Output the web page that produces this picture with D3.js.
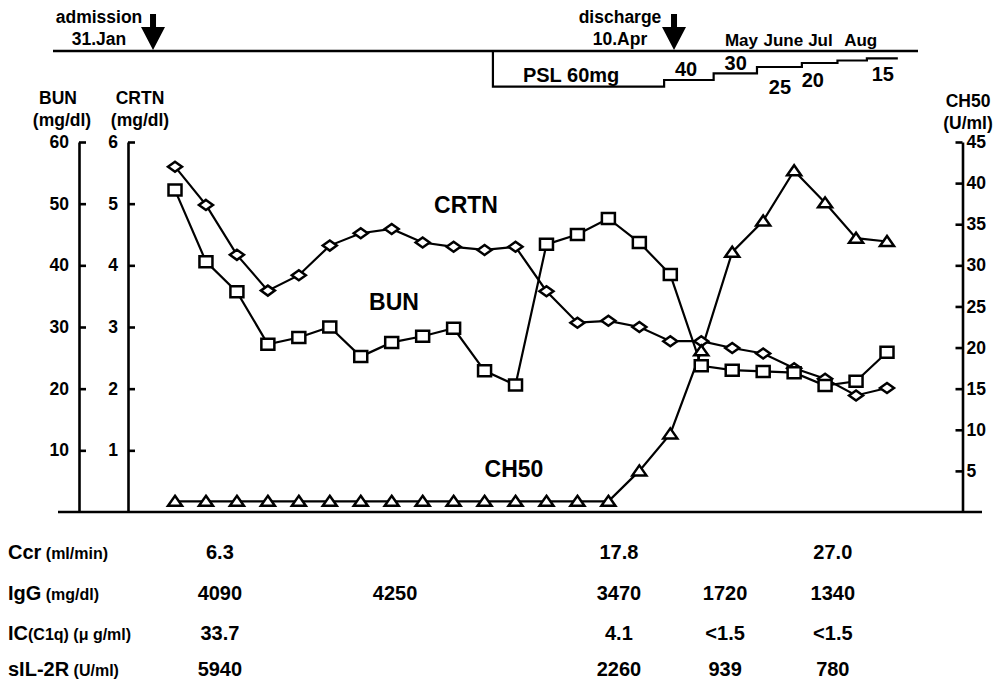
<!DOCTYPE html>
<html>
<head>
<meta charset="utf-8">
<script src="https://cdn.jsdelivr.net/npm/d3@7"></script>
<style>
  html, body { margin: 0; padding: 0; background: #fff; }
  svg { display: block; }
  text { font-family: "Liberation Sans", Arial, Helvetica, sans-serif; font-weight: bold; fill: #000; }
</style>
</head>
<body>
<svg id="chart" width="1000" height="681"></svg>
<script>
// ---------------- data ----------------
// time index of each sample (roughly weekly)
const samples = d3.range(24);
const bun  = [52.2, 40.6, 35.7, 27.2, 28.3, 30.0, 25.2, 27.5, 28.5, 29.8, 22.9, 20.6,
              43.4, 45.0, 47.6, 43.7, 38.5, 23.7, 23.0, 22.8, 22.6, 20.5, 21.2, 25.9];
const crtn = [5.60, 4.98, 4.17, 3.59, 3.84, 4.32, 4.52, 4.59, 4.37, 4.30, 4.25, 4.30,
              3.58, 3.07, 3.10, 3.00, 2.77, 2.77, 2.66, 2.57, 2.33, 2.16, 1.89, 2.01];
const ch50 = [1.3, 1.3, 1.3, 1.3, 1.3, 1.3, 1.3, 1.3, 1.3, 1.3, 1.3, 1.3,
              1.3, 1.3, 1.3, 5.0, 9.5, 19.6, 31.6, 35.4, 41.5, 37.6, 33.3, 32.9];

const bunTicks  = [10, 20, 30, 40, 50, 60];
const crtnTicks = [1, 2, 3, 4, 5, 6];
const ch50Ticks = [5, 10, 15, 20, 25, 30, 35, 40, 45];

// timeline events (time index)
const events = [
  { t: -0.71, lines: ["admission", "31.Jan"] },
  { t: 16.12, lines: ["discharge", "10.Apr"] }
];
const months = ["May", "June", "Jul", "Aug"];
const monthT = [18.3, 19.65, 20.85, 22.15];

// prednisolone dose schedule (start time index, dose mg)
const pslStart = [10.27, 15.8, 17.4, 18.8, 20.25, 21.4, 22.35];
const pslDose  = [60, 40, 30, 25, 20, 17.5, 15];
const pslEnd   = 23.35;

// table below chart
const tableRows  = ["Ccr", "IgG", "IC", "sIL-2R"];
const tableUnits = [" (ml/min)", " (mg/dl)", "(C1q) (\u03bc g/ml)", " (U/ml)"];
const tableColT  = [1.45, 7.11, 14.34, 17.77, 21.25];
const ccrVals  = ["6.3", "", "17.8", "", "27.0"];
const iggVals  = ["4090", "4250", "3470", "1720", "1340"];
const icVals   = ["33.7", "", "4.1", "<1.5", "<1.5"];
const sil2rVals = ["5940", "", "2260", "939", "780"];

// ---------------- layout ----------------
const svg = d3.select("#chart");
const x = d3.scaleLinear().domain([0, 23]).range([175, 887]);
const yTop = 142, yBase = 512;
const yBun  = d3.scaleLinear().domain([0, 60]).range([yBase, yTop]);
const yCrtn = d3.scaleLinear().domain([0, 6]).range([yBase, yTop]);
const yCh50 = d3.scaleLinear().domain([0, 45]).range([yBase, yTop]);

// ---------- timeline ----------
const tl = svg.append("g");
const tlY = 51;
tl.append("line").attr("x1", 53).attr("x2", 918).attr("y1", tlY).attr("y2", tlY)
  .attr("stroke", "#000").attr("stroke-width", 2.6);

events.forEach(e => {
  const ex = x(e.t);
  tl.append("path")
    .attr("d", `M${ex - 3},14 H${ex + 3} V27 H${ex + 12} L${ex},50 L${ex - 12},27 H${ex - 3} Z`)
    .attr("fill", "#000");
  tl.append("text").attr("x", ex - 54).attr("y", 23).attr("text-anchor", "middle")
    .attr("font-size", 17.5).text(e.lines[0]);
  tl.append("text").attr("x", ex - 54).attr("y", 45).attr("text-anchor", "middle")
    .attr("font-size", 17.5).text(e.lines[1]);
});

months.forEach((m, i) => {
  tl.append("text").attr("x", x(monthT[i])).attr("y", 46).attr("text-anchor", "middle")
    .attr("font-size", 17).text(m);
});

// PSL step line
const yDose = d3.scaleLinear().domain([15, 17.5, 20, 25, 30, 40, 60])
  .range([58.3, 60.5, 63, 67, 73.3, 80, 86.7]);
let pd = `M${x(pslStart[0])},${tlY} V${yDose(pslDose[0])}`;
pslStart.forEach((s, i) => {
  const e = i < pslStart.length - 1 ? pslStart[i + 1] : pslEnd;
  if (i > 0) pd += ` V${yDose(pslDose[i])}`;
  pd += ` H${x(e)}`;
});
tl.append("path").attr("d", pd).attr("fill", "none").attr("stroke", "#000").attr("stroke-width", 2.2);

const pslLabels = [
  { t: 10.27, dx: 30, y: 82, anchor: "start", txt: "PSL 60mg" },
  { t: 15.8, dx: 22, y: 76, anchor: "middle", txt: "40" },
  { t: 17.4, dx: 22, y: 70, anchor: "middle", txt: "30" },
  { t: 18.8, dx: 23, y: 94, anchor: "middle", txt: "25" },
  { t: 20.25, dx: 11, y: 87, anchor: "middle", txt: "20" },
  { t: 22.35, dx: 16, y: 81, anchor: "middle", txt: "15" }
];
pslLabels.forEach(l => {
  tl.append("text").attr("x", x(l.t) + l.dx).attr("y", l.y).attr("text-anchor", l.anchor)
    .attr("font-size", 20).text(l.txt);
});

// ---------- axes ----------
const styleAxis = g => {
  g.selectAll(".domain").attr("stroke", "#000").attr("stroke-width", 2.6);
  g.selectAll(".tick line").attr("stroke", "#000").attr("stroke-width", 2.6);
  g.selectAll(".tick text").attr("font-size", 17.5)
    .attr("font-family", "'Liberation Sans', Arial, sans-serif").attr("font-weight", "bold").attr("fill", "#000");
};

svg.append("g").attr("transform", "translate(79,0)")
  .call(d3.axisLeft(yBun).tickValues(bunTicks).tickFormat(d3.format("d"))
    .tickSizeInner(-7).tickSizeOuter(0).tickPadding(10))
  .call(styleAxis);
svg.append("g").attr("transform", "translate(128,0)")
  .call(d3.axisLeft(yCrtn).tickValues(crtnTicks).tickFormat(d3.format("d"))
    .tickSizeInner(-7).tickSizeOuter(0).tickPadding(10))
  .call(styleAxis);
svg.append("g").attr("transform", "translate(962.5,0)")
  .call(d3.axisRight(yCh50).tickValues(ch50Ticks).tickFormat(d3.format("d"))
    .tickSizeInner(-7).tickSizeOuter(0).tickPadding(4))
  .call(styleAxis);

// baseline
svg.append("line").attr("x1", 58).attr("x2", 982).attr("y1", yBase).attr("y2", yBase)
  .attr("stroke", "#000").attr("stroke-width", 2.6);

// axis titles
const titles = [
  { x: 58, lines: ["BUN", "(mg/dl)"], y0: 104 },
  { x: 140, lines: ["CRTN", "(mg/dl)"], y0: 104 },
  { x: 968, lines: ["CH50", "(U/ml)"], y0: 107 }
];
titles.forEach(t => {
  t.lines.forEach((ln, i) => {
    svg.append("text").attr("x", t.x + (i === 1 && t.x < 100 ? 4 : 0)).attr("y", t.y0 + i * 22)
      .attr("text-anchor", "middle").attr("font-size", 17.5).text(ln);
  });
});

// ---------- series ----------
const lineGen = (yScale) => d3.line().x((d, i) => x(samples[i])).y(d => yScale(d));
const series = [
  { data: crtn, y: yCrtn, shape: "diamond" },
  { data: bun, y: yBun, shape: "square" },
  { data: ch50, y: yCh50, shape: "triangle" }
];
series.forEach(s => {
  svg.append("path").datum(s.data).attr("d", lineGen(s.y))
    .attr("fill", "none").attr("stroke", "#000").attr("stroke-width", 2.2);
});
const shapes = {
  diamond: "M0,-5 L7,0 L0,5 L-7,0 Z",
  square: "M-6.5,-5.5 H6.5 V5.5 H-6.5 Z",
  triangle: "M0,-5.5 L7,4.5 L-7,4.5 Z"
};
series.forEach(s => {
  svg.append("g").selectAll("path").data(s.data).join("path")
    .attr("transform", (d, i) => `translate(${x(samples[i])},${s.y(d)})`)
    .attr("d", shapes[s.shape])
    .attr("fill", "#fff").attr("stroke", "#000").attr("stroke-width", 2.5)
    .attr("stroke-linejoin", "miter");
});

// series labels
svg.append("text").attr("x", 466).attr("y", 213).attr("text-anchor", "middle").attr("font-size", 23).text("CRTN");
svg.append("text").attr("x", 394).attr("y", 310).attr("text-anchor", "middle").attr("font-size", 23).text("BUN");
svg.append("text").attr("x", 514).attr("y", 477).attr("text-anchor", "middle").attr("font-size", 23).text("CH50");

// ---------- table ----------
const tableVals = [ccrVals, iggVals, icVals, sil2rVals];
const rowY = [559, 600, 640, 676];
tableRows.forEach((r, ri) => {
  const t = svg.append("text").attr("x", 8).attr("y", rowY[ri]);
  t.append("tspan").attr("font-size", 20).text(r);
  t.append("tspan").attr("font-size", 16).text(tableUnits[ri]);
  tableVals[ri].forEach((v, ci) => {
    if (!v) return;
    svg.append("text").attr("x", x(tableColT[ci])).attr("y", rowY[ri])
      .attr("text-anchor", "middle").attr("font-size", 20).text(v);
  });
});
</script>
</body>
</html>
